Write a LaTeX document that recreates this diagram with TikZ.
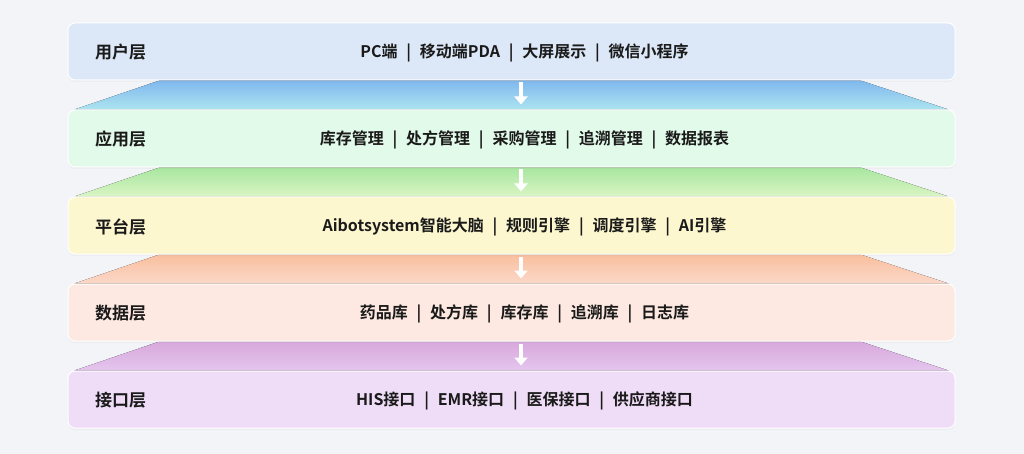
\documentclass[tikz,border=0pt]{standalone}
\usepackage{fontspec}
\setmainfont{Noto Sans CJK SC}[BoldFont={Noto Sans CJK SC Bold}]
\usepackage{xcolor}
\usetikzlibrary{arrows.meta, positioning, calc, backgrounds, shadows}

\definecolor{bgcol}{HTML}{F2F4F8}
\definecolor{userfill}{HTML}{DCE8F8}
\definecolor{appfill}{HTML}{E2FAE9}
\definecolor{platfill}{HTML}{FDF7CF}
\definecolor{datafill}{HTML}{FDE9E1}
\definecolor{intffill}{HTML}{EFDCF6}
\definecolor{textcol}{HTML}{1A1A1A}
\definecolor{linkAtop}{HTML}{80B8EE}
\definecolor{linkAbot}{HTML}{ACE4F0}
\definecolor{linkBtop}{HTML}{A8E6A0}
\definecolor{linkBbot}{HTML}{DAF5C4}
\definecolor{linkCtop}{HTML}{F8BF9E}
\definecolor{linkCbot}{HTML}{FCD8C8}
\definecolor{linkDtop}{HTML}{D8A8DC}
\definecolor{linkDbot}{HTML}{E4C6EE}

\newcommand{\layerbar}{\hspace{0.55em}|\hspace{0.55em}}

\tikzstyle{layer}  = [rectangle, rounded corners=7pt, minimum width=887pt,
                      minimum height=57pt, draw=white, line width=1pt,
                      drop shadow={opacity=0.06, shadow xshift=0pt, shadow yshift=-2pt}]
\tikzstyle{tag}    = [anchor=west, text=textcol, font=\fontsize{17}{17}\selectfont\bfseries]
\tikzstyle{items}  = [text=textcol, font=\fontsize{16}{16}\selectfont\bfseries]
\tikzstyle{arrow}  = [white, line width=3.5pt, -{Triangle[length=8pt,width=13pt]},
                      shorten <=2pt, shorten >=5pt]

\begin{document}
\begin{tikzpicture}[x=1pt, y=-1pt, node distance=29pt]

  % Layers
  \node[layer, fill=userfill] (user) at (511.5,51.5) {};
  \node[layer, fill=appfill, below=of user] (app) {};
  \node[layer, fill=platfill, below=of app] (plat) {};
  \node[layer, fill=datafill, below=of plat] (data) {};
  \node[layer, fill=intffill, below=of data] (intf) {};

  % Layer names
  \node[tag] (userT) at ($(user.west)+(24,1)$) {用户层};
  \node[tag] (appT)  at ($(app.west)+(24,1)$)  {应用层};
  \node[tag] (platT) at ($(plat.west)+(24,1)$) {平台层};
  \node[tag] (dataT) at ($(data.west)+(24,1)$) {数据层};
  \node[tag] (intfT) at ($(intf.west)+(24,1)$) {接口层};

  % Contents
  \node[items, xshift=13pt, yshift=-1.5pt] (userC) at (user) {PC端\layerbar 移动端PDA\layerbar 大屏展示\layerbar 微信小程序};
  \node[items, xshift=13pt, yshift=-1.5pt] (appC)  at (app)  {库存管理\layerbar 处方管理\layerbar 采购管理\layerbar 追溯管理\layerbar 数据报表};
  \node[items, xshift=13pt, yshift=-1.5pt] (platC) at (plat) {Aibotsystem智能大脑\layerbar 规则引擎\layerbar 调度引擎\layerbar AI引擎};
  \node[items, xshift=13pt, yshift=-1.5pt] (dataC) at (data) {药品库\layerbar 处方库\layerbar 库存库\layerbar 追溯库\layerbar 日志库};
  \node[items, xshift=13pt, yshift=-1.5pt] (intfC) at (intf) {HIS接口\layerbar EMR接口\layerbar 医保接口\layerbar 供应商接口};

  \begin{scope}[on background layer]
    % Background
    \fill[bgcol] (0,0) rectangle (1024,454);

    % Links between layers
    \fill[top color=linkAtop, bottom color=linkAbot]
      ($(user.south west)+(92,0)$) -- ($(user.south east)+(-95,0)$)
      -- ($(app.north east)+(-7,0)$) -- ($(app.north west)+(7,0)$) -- cycle;
    \fill[top color=linkBtop, bottom color=linkBbot]
      ($(app.south west)+(92,0)$) -- ($(app.south east)+(-95,0)$)
      -- ($(plat.north east)+(-7,0)$) -- ($(plat.north west)+(7,0)$) -- cycle;
    \fill[top color=linkCtop, bottom color=linkCbot]
      ($(plat.south west)+(92,0)$) -- ($(plat.south east)+(-95,0)$)
      -- ($(data.north east)+(-7,0)$) -- ($(data.north west)+(7,0)$) -- cycle;
    \fill[top color=linkDtop, bottom color=linkDbot]
      ($(data.south west)+(92,0)$) -- ($(data.south east)+(-95,0)$)
      -- ($(intf.north east)+(-7,0)$) -- ($(intf.north west)+(7,0)$) -- cycle;
  \end{scope}
  \useasboundingbox (0,0) rectangle (1024,454);

  % Arrows
  \draw[arrow] ([xshift=9.5pt]user.south) -- ([xshift=9.5pt]app.north);
  \draw[arrow] ([xshift=9.5pt]app.south)  -- ([xshift=9.5pt]plat.north);
  \draw[arrow] ([xshift=9.5pt]plat.south) -- ([xshift=9.5pt]data.north);
  \draw[arrow] ([xshift=9.5pt]data.south) -- ([xshift=9.5pt]intf.north);

\end{tikzpicture}
\end{document}
